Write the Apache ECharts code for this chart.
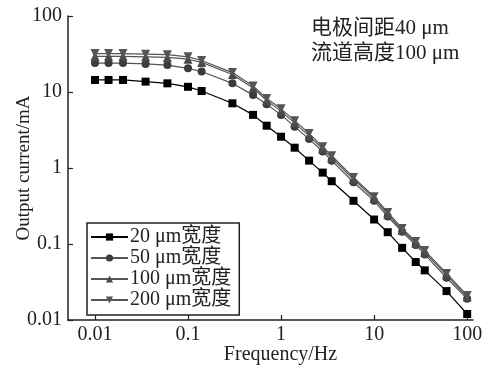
<!DOCTYPE html>
<html><head><meta charset="utf-8">
<script src="https://cdn.jsdelivr.net/npm/echarts@6/dist/echarts.min.js"></script>
<style>html,body{margin:0;padding:0;background:#fff}#c{width:486px;height:370px}</style>
</head><body><div id="c"></div>
<script>
const freq = [0.01, 0.014, 0.02, 0.035, 0.06, 0.1, 0.14, 0.3, 0.5, 0.7, 1, 1.4, 2, 2.8, 3.5, 6, 10, 14, 20, 28, 35, 60, 100];
const w20  = [14.4, 14.4, 14.4, 13.7, 13.0, 11.7, 10.3, 7.1, 5.0, 3.6, 2.58, 1.85, 1.25, 0.87, 0.67, 0.37, 0.21, 0.143, 0.089, 0.058, 0.045, 0.024, 0.012];
const w50  = [24, 24, 24, 23.4, 22.6, 20.5, 18.6, 13, 9.1, 6.9, 5.0, 3.5, 2.4, 1.65, 1.25, 0.65, 0.37, 0.23, 0.145, 0.097, 0.073, 0.036, 0.019];
const w100 = [29.5, 29.5, 29.5, 29, 28.5, 27, 24.5, 17, 11.3, 7.7, 5.6, 3.9, 2.65, 1.78, 1.35, 0.71, 0.40, 0.245, 0.152, 0.103, 0.078, 0.039, 0.020];
const w200 = [32, 32, 32, 31.5, 31, 29, 26, 18, 12, 8.2, 6.0, 4.2, 2.85, 1.9, 1.45, 0.75, 0.42, 0.26, 0.16, 0.108, 0.082, 0.041, 0.021];
const seriesNames = ['20 μm宽度', '50 μm宽度', '100 μm宽度', '200 μm宽度'];
const xTicks = [0.01, 0.1, 1, 10, 100];
const yTicks = [0.01, 0.1, 1, 10, 100];
const xTitle = 'Frequency/Hz';
const yTitle = 'Output current/mA';
const note1 = '电极间距40 μm';
const note2 = '流道高度100 μm';

const FONT = '"Liberation Serif", "Times New Roman", "Noto Sans CJK SC", serif';
const pairs = v => freq.map((f, i) => [f, v[i]]);
const chart = echarts.init(document.getElementById('c'), null, {renderer: 'canvas'});
const styles = [
  {symbol: 'rect', color: '#000', line: '#000', size: 8},
  {symbol: 'circle', color: '#3c3c3c', line: '#555', size: 8},
  {symbol: 'triangle', color: '#4a4a4a', line: '#555', size: 9},
  {symbol: 'path://M0,0 L10,0 L5,9 Z', color: '#555', line: '#555', size: 9}
];
const dataSets = [w20, w50, w100, w200];
const axisCommon = {
  axisLine: {show: true, lineStyle: {color: '#222', width: 1.5}},
  axisTick: {show: true, inside: true, length: 5, lineStyle: {color: '#222', width: 1.2}},
  splitLine: {show: false},
  minorTick: {show: false},
  nameMoveOverlap: false,
  axisLabel: {color: '#222', fontFamily: FONT, fontSize: 19},
  nameTextStyle: {color: '#222', fontFamily: FONT, fontSize: 19}
};
chart.setOption({
  animation: false,
  backgroundColor: '#fff',
  grid: {left: 68, right: 13, top: 16, bottom: 50, containLabel: false, outerBoundsMode: 'none'},
  xAxis: Object.assign({}, axisCommon, {
    type: 'log', logBase: 10, min: 0.00513, max: 115.5,
    name: xTitle, nameLocation: 'middle', nameGap: 25,
    nameTextStyle: {color: '#222', fontFamily: FONT, fontSize: 20, padding: [0, 0, 0, 20]},
    axisTick: Object.assign({}, axisCommon.axisTick, {customValues: xTicks}),
    axisLabel: Object.assign({}, axisCommon.axisLabel, {customValues: xTicks, margin: 5, fontSize: 20,
      formatter: v => String(v)})
  }),
  yAxis: Object.assign({}, axisCommon, {
    type: 'log', logBase: 10, min: 0.01, max: 100,
    name: yTitle, nameLocation: 'middle', nameGap: 34, nameRotate: 90,
    axisTick: Object.assign({}, axisCommon.axisTick, {customValues: yTicks}),
    axisLabel: Object.assign({}, axisCommon.axisLabel, {customValues: yTicks, margin: 6, fontSize: 20,
      formatter: v => String(v)})
  }),
  legend: {
    orient: 'vertical', left: 87, top: 223,
    data: seriesNames,
    itemWidth: 37, itemHeight: 9, itemGap: 1,
    padding: [4, 8, 5, 3],
    borderColor: '#222', borderWidth: 1.5,
    textStyle: {color: '#222', fontFamily: FONT, fontSize: 20, lineHeight: 20, padding: [0, 0, 0, -3]},
    inactiveColor: '#222'
  },
  graphic: [
    {type: 'text', left: 311, top: 18, style: {text: note1, font: '21px ' + FONT, fill: '#222'}},
    {type: 'text', left: 311, top: 43, style: {text: note2, font: '21px ' + FONT, fill: '#222'}}
  ],
  series: dataSets.map((d, i) => ({
    name: seriesNames[i], type: 'line', data: pairs(d),
    symbol: styles[i].symbol, symbolSize: styles[i].size,
    showSymbol: true,
    itemStyle: {color: styles[i].color},
    lineStyle: {color: styles[i].line, width: 1.2},
    z: 2 + i
  }))
});
</script></body></html>
